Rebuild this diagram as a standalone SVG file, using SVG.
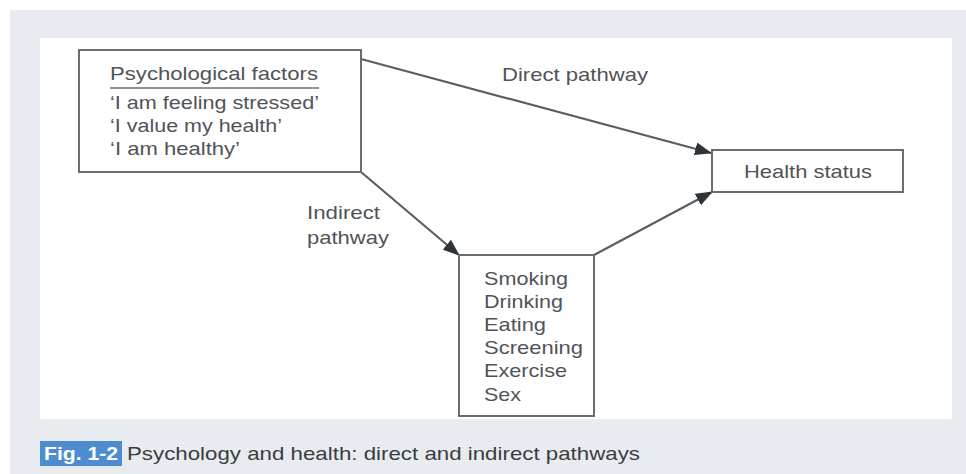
<svg xmlns="http://www.w3.org/2000/svg" width="966" height="474" viewBox="0 0 966 474">
<defs>
<marker id="ah" markerWidth="17" markerHeight="13" refX="16" refY="6.5" orient="auto" markerUnits="userSpaceOnUse">
<path d="M0,0 L17,6.5 L0,13 Z" fill="#2e3438"/>
</marker>
<style>
.box{fill:#fff;stroke:#6a6d70;stroke-width:2}
.t{font-family:"Liberation Sans",Arial,sans-serif;font-size:19px;fill:#505458}
.ln{stroke:#5a5e62;stroke-width:2.2;fill:none}
</style>
</defs>
<rect x="10" y="10" width="956" height="464" fill="#e8ecf0"/>
<rect x="40" y="38" width="912" height="381" fill="#ffffff"/>
<g id="connectors">
<line class="ln" x1="361" y1="59" x2="711" y2="153" marker-end="url(#ah)"/>
<line class="ln" x1="361" y1="172" x2="459" y2="255" marker-end="url(#ah)"/>
<line class="ln" x1="594" y1="255" x2="712" y2="192" marker-end="url(#ah)"/>
<text class="t" x="502" y="81" textLength="146" lengthAdjust="spacingAndGlyphs">Direct pathway</text>
<text class="t" x="307" y="219" textLength="73" lengthAdjust="spacingAndGlyphs">Indirect</text>
<text class="t" x="307" y="244" textLength="82" lengthAdjust="spacingAndGlyphs">pathway</text>
</g>
<g id="psych">
<rect class="box" x="79" y="50" width="282" height="122"/>
<text class="t" x="110" y="80" textLength="208" lengthAdjust="spacingAndGlyphs">Psychological factors</text>
<line x1="110" y1="88" x2="319" y2="88" stroke="#6a6d70" stroke-width="1.5"/>
<text class="t" x="110" y="109" textLength="209" lengthAdjust="spacingAndGlyphs">‘I am feeling stressed’</text>
<text class="t" x="110" y="132" textLength="172" lengthAdjust="spacingAndGlyphs">‘I value my health’</text>
<text class="t" x="110" y="155" textLength="130" lengthAdjust="spacingAndGlyphs">‘I am healthy’</text>
</g>
<g id="health">
<rect class="box" x="712" y="150" width="191" height="42"/>
<text class="t" x="744" y="178" textLength="128" lengthAdjust="spacingAndGlyphs">Health status</text>
</g>
<g id="behaviours">
<rect class="box" x="459" y="255" width="135" height="161"/>
<text class="t" x="484" y="285" textLength="84" lengthAdjust="spacingAndGlyphs">Smoking</text>
<text class="t" x="484" y="308" textLength="79" lengthAdjust="spacingAndGlyphs">Drinking</text>
<text class="t" x="484" y="331" textLength="62" lengthAdjust="spacingAndGlyphs">Eating</text>
<text class="t" x="484" y="354" textLength="99" lengthAdjust="spacingAndGlyphs">Screening</text>
<text class="t" x="484" y="377" textLength="83" lengthAdjust="spacingAndGlyphs">Exercise</text>
<text class="t" x="484" y="401" textLength="37" lengthAdjust="spacingAndGlyphs">Sex</text>
</g>
<g id="caption">
<rect x="40" y="441" width="82" height="25" fill="#4d8dcf"/>
<text x="44" y="460" font-family="Liberation Sans,Arial,sans-serif" font-size="18" font-weight="bold" fill="#ffffff" textLength="74" lengthAdjust="spacingAndGlyphs">Fig. 1-2</text>
<text x="127" y="460" font-family="Liberation Sans,Arial,sans-serif" font-size="19" fill="#3a3d40" textLength="513" lengthAdjust="spacingAndGlyphs">Psychology and health: direct and indirect pathways</text>
</g>
</svg>
